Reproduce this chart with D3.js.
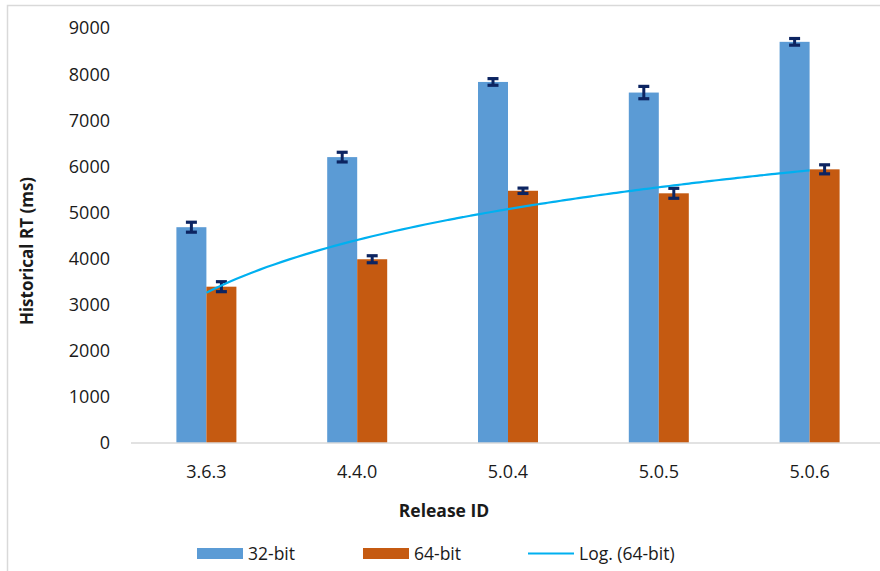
<!DOCTYPE html>
<html>
<head>
<meta charset="utf-8">
<script src="https://cdn.jsdelivr.net/npm/d3@7"></script>
<style>
  html, body { margin: 0; padding: 0; background: #fff; }
  svg { display: block; }
  text { font-family: "Open Sans", "Noto Sans", sans-serif; fill: #1a1a1a; }
</style>
</head>
<body>
<svg id="chart" width="880" height="571"></svg>
<script>
// ---- data ----
const categories = ["3.6.3", "4.4.0", "5.0.4", "5.0.5", "5.0.6"];
const seriesNames = ["32-bit", "64-bit"];
const values32 = [4680, 6200, 7830, 7600, 8700];
const values64 = [3390, 3985, 5470, 5415, 5935];
const errors32 = [108, 105, 72, 134, 72];
const errors64 = [108, 76, 58, 108, 98];
const yTicks = [0, 1000, 2000, 3000, 4000, 5000, 6000, 7000, 8000, 9000];
const trendLabel = "Log. (64-bit)";
const xTitle = "Release ID";
const yTitle = "Historical RT (ms)";

const colors = { "32-bit": "#5b9bd5", "64-bit": "#c55a11" };
const trendColor = "#00b0f0";
const errColor = "#0c2461";

const svg = d3.select("#chart");

// frame
svg.append("path")
  .attr("d", "M7.5,571 V5.5 H880")
  .attr("fill", "none").attr("stroke", "#d9d9d9").attr("stroke-width", 1.5);

const plot = { left: 131, right: 885, top: 28, bottom: 443 };

const x0 = d3.scaleBand().domain(categories).range([plot.left, plot.right]).padding(0);
const groupW = 60;
const x1 = d3.scaleBand().domain(seriesNames).range([0, groupW]).padding(0);
const y = d3.scaleLinear().domain([0, 9000]).range([plot.bottom, plot.top]);

const data = categories.map((c, i) => ({
  cat: c,
  bars: [
    { s: "32-bit", v: values32[i], e: errors32[i] },
    { s: "64-bit", v: values64[i], e: errors64[i] }
  ]
}));

// y tick labels
svg.append("g").selectAll("text").data(yTicks).join("text")
  .attr("x", 110).attr("y", d => y(d)).attr("dy", "0.36em")
  .attr("text-anchor", "end").attr("font-size", 18).text(d => d);

// bars
const groups = svg.append("g").selectAll("g").data(data).join("g")
  .attr("transform", d => `translate(${x0(d.cat) + (x0.bandwidth() - groupW) / 2},0)`);

groups.selectAll("rect").data(d => d.bars).join("rect")
  .attr("x", d => x1(d.s)).attr("width", x1.bandwidth())
  .attr("y", d => y(d.v)).attr("height", d => y(0) - y(d.v))
  .attr("fill", d => colors[d.s]);

// x axis line
svg.append("line")
  .attr("x1", plot.left).attr("x2", 880).attr("y1", y(0)).attr("y2", y(0))
  .attr("stroke", "#d9d9d9").attr("stroke-width", 1.5);

// trendline: logarithmic least-squares fit of 64-bit series (Excel style: x = 1..n)
const lx = values64.map((v, i) => Math.log(i + 1));
const mx = d3.mean(lx), my = d3.mean(values64);
const a = d3.sum(lx.map((l, i) => (l - mx) * (values64[i] - my))) / d3.sum(lx.map(l => (l - mx) ** 2));
const b = my - a * mx;
const xIdx = d3.scaleLinear().domain([1, categories.length])
  .range([x0(categories[0]) + x0.bandwidth() / 2, x0(categories[categories.length - 1]) + x0.bandwidth() / 2]);
const trendPts = d3.range(1, categories.length + 0.001, 0.05).map(t => [xIdx(t), y(a * Math.log(t) + b)]);
svg.append("path").datum(trendPts)
  .attr("d", d3.line().curve(d3.curveMonotoneX))
  .attr("fill", "none").attr("stroke", trendColor).attr("stroke-width", 2.2);

// error bars
const eb = groups.selectAll("g.err").data(d => d.bars).join("g").attr("class", "err");
const capW = 11;
eb.append("line")
  .attr("x1", d => x1(d.s) + x1.bandwidth() / 2).attr("x2", d => x1(d.s) + x1.bandwidth() / 2)
  .attr("y1", d => y(d.v + d.e)).attr("y2", d => y(d.v - d.e))
  .attr("stroke", errColor).attr("stroke-width", 3);
eb.append("line")
  .attr("x1", d => x1(d.s) + x1.bandwidth() / 2 - capW / 2).attr("x2", d => x1(d.s) + x1.bandwidth() / 2 + capW / 2)
  .attr("y1", d => y(d.v + d.e)).attr("y2", d => y(d.v + d.e))
  .attr("stroke", errColor).attr("stroke-width", 3.2);
eb.append("line")
  .attr("x1", d => x1(d.s) + x1.bandwidth() / 2 - capW / 2).attr("x2", d => x1(d.s) + x1.bandwidth() / 2 + capW / 2)
  .attr("y1", d => y(d.v - d.e)).attr("y2", d => y(d.v - d.e))
  .attr("stroke", errColor).attr("stroke-width", 3.2);

// x labels
svg.append("g").selectAll("text").data(categories).join("text")
  .attr("x", d => x0(d) + x0.bandwidth() / 2).attr("y", 478)
  .attr("text-anchor", "middle").attr("font-size", 18).text(d => d);

// axis titles
svg.append("text").attr("x", 444).attr("y", 517).attr("text-anchor", "middle")
  .attr("font-size", 17.5).attr("font-weight", "bold").text(xTitle);
svg.append("text").attr("transform", "translate(33,251) rotate(-90)").attr("text-anchor", "middle")
  .attr("font-size", 17).attr("font-weight", "bold").text(yTitle);

// legend
const legend = svg.append("g");
const legItems = [
  { label: seriesNames[0], type: "rect", color: colors["32-bit"], x: 197 },
  { label: seriesNames[1], type: "rect", color: colors["64-bit"], x: 363 },
  { label: trendLabel, type: "line", color: trendColor, x: 528 }
];
legItems.forEach(it => {
  if (it.type === "rect") {
    legend.append("rect").attr("x", it.x).attr("y", 548).attr("width", 46).attr("height", 11).attr("fill", it.color);
  } else {
    legend.append("line").attr("x1", it.x).attr("x2", it.x + 46).attr("y1", 553.5).attr("y2", 553.5)
      .attr("stroke", it.color).attr("stroke-width", 2.2);
  }
  legend.append("text").attr("x", it.x + 51).attr("y", 559.5).attr("font-size", 17.5).text(it.label);
});
</script>
</body>
</html>
